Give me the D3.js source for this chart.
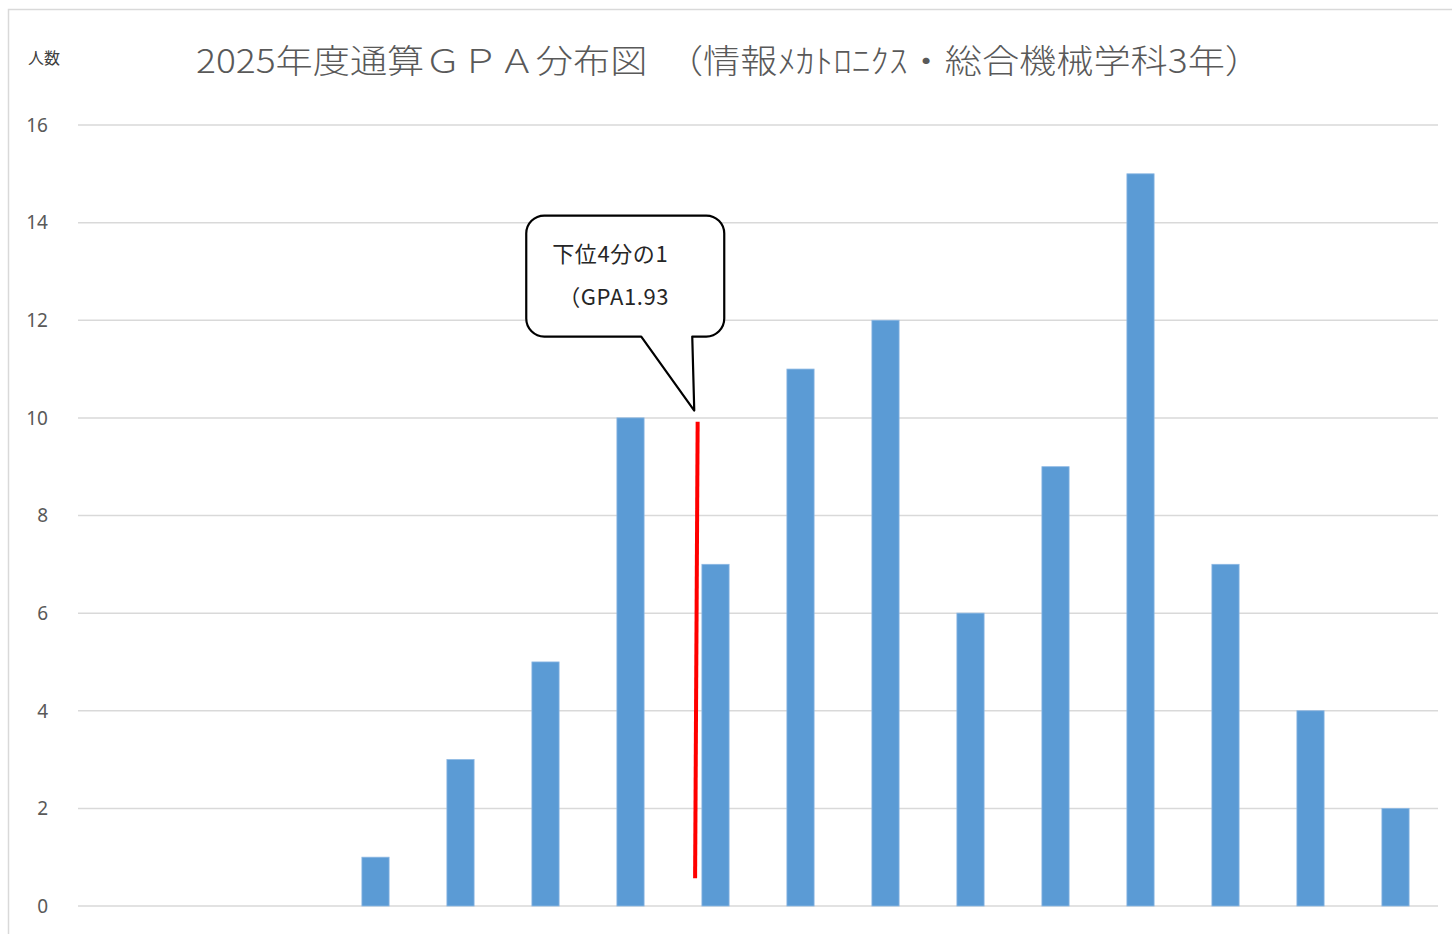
<!DOCTYPE html>
<html lang="ja">
<head>
    <meta charset="UTF-8">
    <title>GPA分布図</title>
    <script src="https://cdn.jsdelivr.net/npm/d3@7"></script>
    <style>
        body {
            margin: 0;
            background: #ffffff;
        }

        svg {
            display: block;
        }

        text {
            font-family: "Noto Sans CJK JP", "Noto Sans", sans-serif;
        }

        .tick-label {
            font-family: "Noto Sans", "Liberation Sans", sans-serif;
            font-size: 19px;
            fill: #595959;
        }
    </style>
</head>
<body>
<svg class="svg" width="1452" height="934"></svg>

<script>

    // GPA階級（0.25刻み）— 軸ラベルは表示しない
    var bins = ['0.00', '0.25', '0.50', '0.75', '1.00', '1.25', '1.50', '1.75',
        '2.00', '2.25', '2.50', '2.75', '3.00', '3.25', '3.50', '3.75'];
    var counts = [0, 0, 0, 1, 3, 5, 10, 7, 11, 12, 6, 9, 15, 7, 4, 2];
    var yTicks = [0, 2, 4, 6, 8, 10, 12, 14, 16];

    var title = '2025年度通算ＧＰＡ分布図　（情報ﾒｶﾄﾛﾆｸｽ・総合機械学科3年）';
    var yLabel = '人数';
    var calloutLines = ['下位4分の1', '（GPA1.93'];

    // 下位25%ライン（カテゴリ位置, 人数）
    var quartileTop = {pos: 7.29, value: 9.92};
    var quartileBottom = {pos: 7.26, value: 0.57};
    var calloutTip = {pos: 7.25, value: 10.15};

    var svg = d3.select('svg');
    var plotLeft = 78, plotRight = 1438, plotTop = 125, plotBottom = 906;

    var x = d3.scaleBand()
        .domain(bins)
        .range([plotLeft, plotRight])
        .paddingInner(0.68)
        .paddingOuter(0.34);

    // カテゴリの連続座標（注釈用）
    var xPos = d3.scaleLinear()
        .domain([0, bins.length])
        .range([plotLeft, plotRight]);

    var y = d3.scaleLinear()
        .domain([0, 16])
        .range([plotBottom, plotTop]);

    // 外枠
    svg.append('path')
        .attr('d', 'M8.5,934 L8.5,9.5 L1452,9.5')
        .attr('fill', 'none')
        .attr('stroke', '#d9d9d9')
        .attr('stroke-width', 1.5);

    // グリッド
    svg.append('g')
        .selectAll('line')
        .data(yTicks)
        .enter()
        .append('line')
        .attr('x1', plotLeft)
        .attr('x2', plotRight)
        .attr('y1', function (d) { return y(d); })
        .attr('y2', function (d) { return y(d); })
        .attr('stroke', '#d9d9d9')
        .attr('stroke-width', 1.5);

    // 目盛ラベル
    svg.append('g')
        .selectAll('text')
        .data(yTicks)
        .enter()
        .append('text')
        .attr('class', 'tick-label')
        .attr('x', 48)
        .attr('y', function (d) { return y(d); })
        .attr('dy', '0.36em')
        .attr('text-anchor', 'end')
        .text(function (d) { return d; });

    // 棒
    svg.append('g')
        .selectAll('rect')
        .data(counts)
        .enter()
        .append('rect')
        .attr('x', function (d, i) { return x(bins[i]); })
        .attr('y', function (d) { return y(d); })
        .attr('width', x.bandwidth())
        .attr('height', function (d) { return y(0) - y(d); })
        .attr('fill', '#5b9bd5')
        .attr('stroke', '#8db8e3')
        .attr('stroke-width', 0.8);

    // 赤線
    svg.append('line')
        .attr('x1', xPos(quartileTop.pos))
        .attr('y1', y(quartileTop.value))
        .attr('x2', xPos(quartileBottom.pos))
        .attr('y2', y(quartileBottom.value))
        .attr('stroke', '#ff0000')
        .attr('stroke-width', 4);

    // 吹き出し
    var tx = xPos(calloutTip.pos), ty = y(calloutTip.value);
    var bx0 = tx - 168, bx1 = tx + 30, by0 = ty - 195, by1 = ty - 74, r = 18;
    var tailA = tx - 53, tailB = tx - 2;
    var p = d3.path();
    p.moveTo(bx0 + r, by0);
    p.lineTo(bx1 - r, by0);
    p.arcTo(bx1, by0, bx1, by0 + r, r);
    p.lineTo(bx1, by1 - r);
    p.arcTo(bx1, by1, bx1 - r, by1, r);
    p.lineTo(tailB, by1);
    p.lineTo(tx, ty);
    p.lineTo(tailA, by1);
    p.lineTo(bx0 + r, by1);
    p.arcTo(bx0, by1, bx0, by1 - r, r);
    p.lineTo(bx0, by0 + r);
    p.arcTo(bx0, by0, bx0 + r, by0, r);
    p.closePath();
    svg.append('path')
        .attr('d', p.toString())
        .attr('fill', '#ffffff')
        .attr('stroke', '#000000')
        .attr('stroke-width', 2.2)
        .attr('stroke-linejoin', 'round');

    svg.append('g')
        .selectAll('text')
        .data(calloutLines)
        .enter()
        .append('text')
        .attr('x', function (d, i) { return i === 0 ? bx0 + 26 : bx0 + 32; })
        .attr('y', function (d, i) { return by0 + 46 + i * 43; })
        .style('font-size', '22px')
        .style('letter-spacing', '0.6px')
        .style('fill', '#262626')
        .text(function (d) { return d; });

    // タイトル
    svg.append('text')
        .attr('x', 196)
        .attr('y', 73)
        .attr('textLength', 1066)
        .attr('lengthAdjust', 'spacingAndGlyphs')
        .style('font-size', '33px')
        .style('font-weight', 300)
        .style('fill', '#595959')
        .text(title);

    svg.append('text')
        .attr('x', 28)
        .attr('y', 64)
        .style('font-size', '16px')
        .style('fill', '#404040')
        .text(yLabel);

</script>

</body>
</html>
